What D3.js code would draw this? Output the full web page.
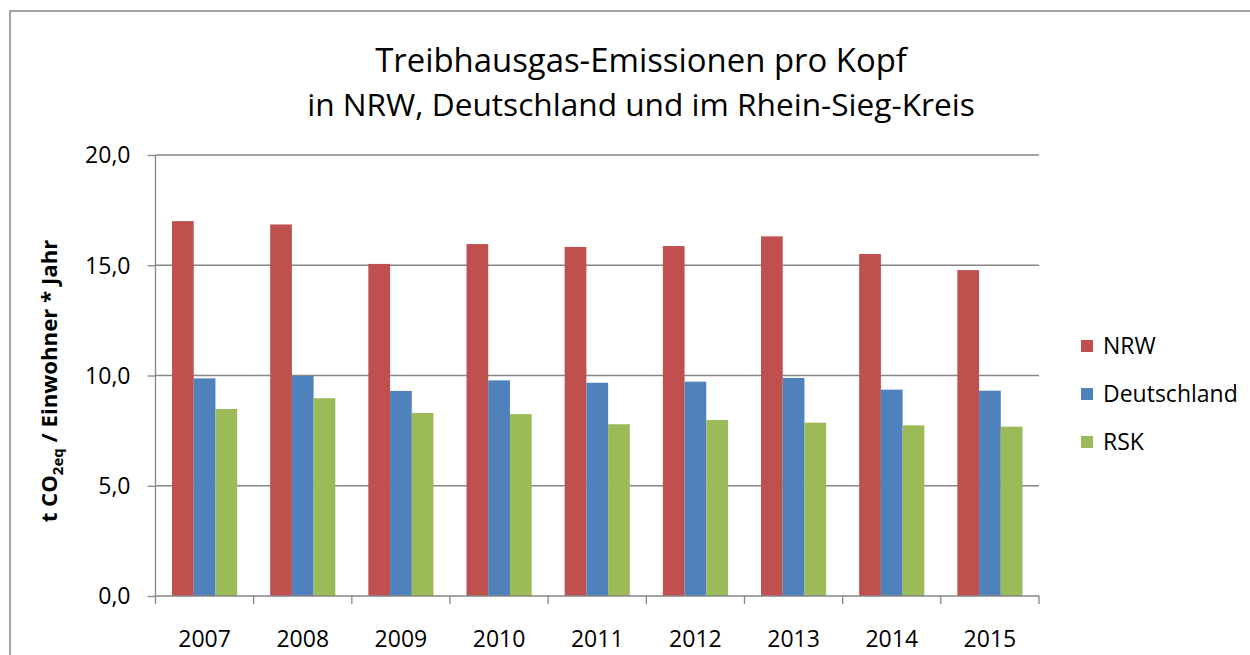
<!DOCTYPE html>
<html>
<head>
<meta charset="utf-8">
<script src="https://cdn.jsdelivr.net/npm/d3@7"></script>
<style>
  body { margin: 0; background: #fff; }
  text { font-family: "Open Sans", sans-serif; fill: #000; }
  .axis path, .axis line { stroke: #868686; stroke-width: 1.3; }
  .grid line { stroke: #868686; stroke-width: 1.3; }
</style>
</head>
<body>
<div id="chart"></div>
<script>
// data
var years = ["2007", "2008", "2009", "2010", "2011", "2012", "2013", "2014", "2015"];
var seriesNames = ["NRW", "Deutschland", "RSK"];
var nrw = [17.0, 16.85, 15.06, 15.96, 15.83, 15.87, 16.31, 15.51, 14.78];
var deutschland = [9.87, 9.98, 9.30, 9.78, 9.67, 9.72, 9.89, 9.36, 9.31];
var rsk = [8.48, 8.97, 8.30, 8.25, 7.79, 7.98, 7.86, 7.74, 7.68];
var yTicks = [0, 5, 10, 15, 20];
var colors = ["#C0504D", "#4F81BD", "#9BBB59"];

var W = 1250, H = 655;
var margin = {t: 155, r: 211, b: 59, l: 155.5};
var width = W - margin.l - margin.r,
    height = H - margin.t - margin.b;

var svg = d3.select('#chart')
    .append('svg')
    .attr('width', W)
    .attr('height', H);

// outer frame of the chart area (runs off the right and bottom edge)
svg.append('rect')
    .attr('x', 10).attr('y', 11)
    .attr('width', W).attr('height', H)
    .attr('fill', 'none')
    .attr('stroke', '#868686')
    .attr('stroke-width', 1.5);

// scales
var scaleX = d3.scaleBand().domain(years).range([0, width]).paddingInner(0).paddingOuter(0);
var scaleX1 = d3.scaleBand().domain(seriesNames).range([0, scaleX.bandwidth()]).paddingInner(0).paddingOuter(0.76);
var scaleY = d3.scaleLinear().domain([0, 20]).range([height, 0]);

var plot = svg.append('g').attr('transform', 'translate(' + margin.l + ',' + margin.t + ')');

// horizontal gridlines
plot.append('g').attr('class', 'grid')
    .selectAll('line')
    .data(yTicks.slice(1))
    .enter().append('line')
    .attr('x1', 0).attr('x2', width)
    .attr('y1', function(d){ return scaleY(d); })
    .attr('y2', function(d){ return scaleY(d); });

// bars
var table = years.map(function(y, i){
    return {year: y, values: [nrw[i], deutschland[i], rsk[i]]};
});

var groups = plot.append('g').selectAll('g')
    .data(table)
    .enter().append('g')
    .attr('transform', function(d){ return 'translate(' + scaleX(d.year) + ',0)'; });

groups.selectAll('rect')
    .data(function(d){ return d.values.map(function(v, j){ return {name: seriesNames[j], value: v, j: j}; }); })
    .enter().append('rect')
    .attr('x', function(d){ return scaleX1(d.name); })
    .attr('width', scaleX1.bandwidth())
    .attr('y', function(d){ return scaleY(d.value); })
    .attr('height', function(d){ return height - scaleY(d.value); })
    .attr('fill', function(d){ return colors[d.j]; });

// axes
var fmt = function(d){ return d3.format('.1f')(d).replace('.', ','); };
var axisY = d3.axisLeft().scale(scaleY).tickValues(yTicks).tickSize(8).tickPadding(17).tickFormat(fmt);
var axisX = d3.axisBottom().scale(scaleX).tickSize(0).tickPadding(0);

var gy = plot.append('g').attr('class', 'axis axis-y').call(axisY);
gy.select('.domain').attr('d', 'M0,0V' + height);
gy.selectAll('text').style('font-size', '23px').attr('dy', '0.34em');

var gx = plot.append('g').attr('class', 'axis axis-x').attr('transform', 'translate(0,' + height + ')').call(axisX);
gx.select('.domain').attr('d', 'M0,0H' + width);
gx.selectAll('text').style('font-size', '23px').attr('y', 51).attr('dy', 0);

// x tick marks at the band edges
gx.selectAll('.edge')
    .data(d3.range(years.length + 1))
    .enter().append('line')
    .attr('class', 'edge')
    .attr('x1', function(i){ return i * scaleX.step(); })
    .attr('x2', function(i){ return i * scaleX.step(); })
    .attr('y1', 0).attr('y2', 8);

// title, fitted to the width of the original lines
function fit(sel, target){
    var size = parseFloat(sel.style('font-size'));
    var len = sel.node().getComputedTextLength();
    sel.style('font-size', (size * target / len) + 'px');
}

var t1 = svg.append('text').attr('x', 641).attr('y', 72).attr('text-anchor', 'middle')
    .style('font-size', '34px').text('Treibhausgas-Emissionen pro Kopf');
fit(t1, 532);
var t2 = svg.append('text').attr('x', 641).attr('y', 116).attr('text-anchor', 'middle')
    .style('font-size', '34px').text('in NRW, Deutschland und im Rhein-Sieg-Kreis');
fit(t2, 668);

// y axis title
var yl = svg.append('text')
    .attr('transform', 'translate(57,381) rotate(-90)')
    .attr('text-anchor', 'middle')
    .style('font-size', '22px')
    .style('font-weight', 'bold');
yl.append('tspan').text('t CO');
yl.append('tspan').attr('dy', 6).style('font-size', '15px').text('2eq');
yl.append('tspan').attr('dy', -6).text(' / Einwohner * Jahr');
fit(yl, 283);

// legend
var legend = svg.append('g').attr('transform', 'translate(1081,346)');
var items = legend.selectAll('g')
    .data(seriesNames)
    .enter().append('g')
    .attr('transform', function(d, i){ return 'translate(0,' + (i * 48) + ')'; });
items.append('rect')
    .attr('x', 0).attr('y', -6)
    .attr('width', 12).attr('height', 12)
    .attr('fill', function(d, i){ return colors[i]; });
items.append('text')
    .attr('x', 22).attr('y', 8)
    .style('font-size', '23px')
    .text(function(d){ return d; });
</script>
</body>
</html>
